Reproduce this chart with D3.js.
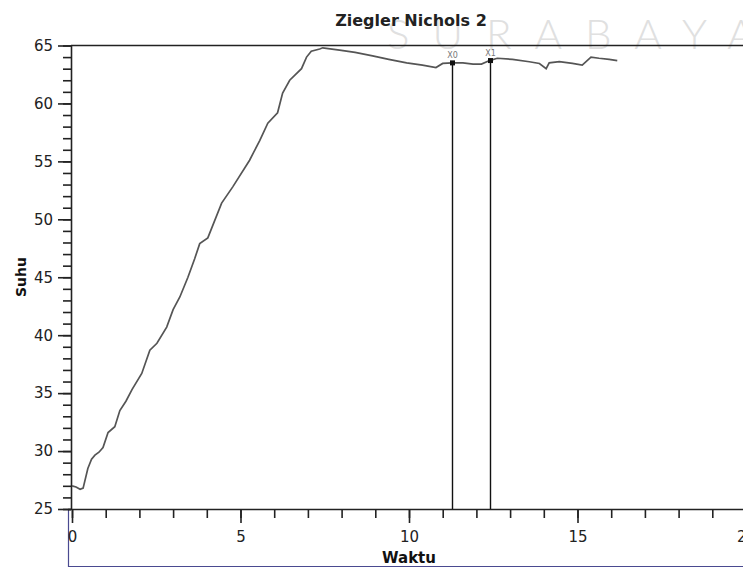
<!DOCTYPE html>
<html>
<head>
<meta charset="utf-8">
<script src="https://cdn.jsdelivr.net/npm/d3@7"></script>
<style>
  body { margin: 0; background: #fff; }
  svg { display: block; }
</style>
</head>
<body>
<svg id="chart" width="743" height="568"></svg>
<script>
// Readings (waktu, suhu)
const waktu = [0, 0.12, 0.24, 0.33, 0.47, 0.58, 0.68, 0.8, 0.92, 1.07, 1.27, 1.42, 1.6, 1.78, 2.07,
  2.31, 2.52, 2.81, 3.0, 3.2, 3.44, 3.64, 3.79, 4.03, 4.44, 4.77, 5.27, 5.57, 5.81, 6.1, 6.25,
  6.46, 6.81, 6.96, 7.1, 7.35, 7.44, 7.94, 8.4, 8.92, 9.4, 9.93, 10.4, 10.8, 11.0, 11.29, 11.6,
  11.9, 12.15, 12.39, 12.62, 13.07, 13.57, 13.87, 14.07, 14.16, 14.46, 14.85, 15.14, 15.4,
  15.64, 15.94, 16.18]
const suhu = [27.0, 26.9, 26.7, 26.8, 28.5, 29.3, 29.65, 29.9, 30.3, 31.6, 32.1, 33.5, 34.3, 35.3, 36.7,
  38.7, 39.3, 40.7, 42.2, 43.3, 45.0, 46.6, 47.9, 48.4, 51.4, 52.8, 55.1, 56.8, 58.3, 59.2, 60.9,
  62.0, 63.0, 64.0, 64.5, 64.7, 64.8, 64.6, 64.4, 64.1, 63.8, 63.5, 63.3, 63.1, 63.45, 63.5, 63.5,
  63.4, 63.4, 63.7, 63.9, 63.8, 63.6, 63.45, 63.0, 63.5, 63.6, 63.45, 63.3, 64.0,
  63.9, 63.8, 63.7]

// cursors
const cursor_names = ['X0', 'X1']
const cursor_t = [11.29, 12.39]
const cursor_v = [63.5, 63.7]

const x_major = [0, 5, 10, 15, 20]
const x_minor = d3.range(0, 21, 1)
const y_major = [25, 30, 35, 40, 45, 50, 55, 60, 65]
const y_minor = d3.range(25, 66, 1)

const svg = d3.select('#chart')
const font = '"DejaVu Sans", Tahoma, sans-serif'

const x = d3.scaleLinear().domain([0, 20]).range([72, 746])
const y = d3.scaleLinear().domain([25, 65]).range([509, 45.5])

// Watermark
svg.append('text')
  .attr('x', 387)
  .attr('y', 49)
  .text('SURABAYA')
  .style('font-family', 'Lato, "Open Sans", sans-serif')
  .style('font-weight', 300)
  .style('font-size', '42px')
  .style('letter-spacing', '23px')
  .style('fill', '#e0e0e0')

// Frame bits at the bottom left
svg.append('path')
  .attr('d', `M68.5,509V566.5H743`)
  .style('fill', 'none')
  .style('stroke', '#4a4a90')
  .style('stroke-width', 1.2)

// Top line
svg.append('line')
  .attr('x1', 71).attr('x2', 743)
  .attr('y1', y(65)).attr('y2', y(65))
  .style('stroke', '#222')
  .style('stroke-width', 1.5)

// Y axis
let gy_minor = svg.append('g')
  .attr('transform', `translate(71,0)`)
  .call(d3.axisLeft(y).tickValues(y_minor).tickSize(8).tickFormat(''))
let gy = svg.append('g')
  .attr('transform', `translate(71,0)`)
  .call(d3.axisLeft(y).tickValues(y_major).tickSize(13).tickPadding(5))

// X axis
let gx_minor = svg.append('g')
  .attr('transform', `translate(0,509)`)
  .call(d3.axisBottom(x).tickValues(x_minor).tickSize(9).tickFormat(''))
let gx = svg.append('g')
  .attr('transform', `translate(0,509)`)
  .call(d3.axisBottom(x).tickValues(x_major).tickSize(14).tickPadding(8))

for (let g of [gy_minor, gy, gx_minor, gx]) {
  g.selectAll('line').style('stroke', '#222').style('stroke-width', 1.6)
  g.select('.domain').style('stroke', '#222').style('stroke-width', 1.6)
  g.selectAll('text')
    .style('font-family', font)
    .style('font-size', '15px')
    .style('fill', '#222')
}
gx.select('.domain').attr('d', 'M68,0.5H743')
gy.select('.domain').attr('d', 'M0.5,45.5V509')
gy_minor.select('.domain').remove()
gx_minor.select('.domain').remove()

// Curve
const line = d3.line()
  .x((d, i) => x(waktu[i]))
  .y((d, i) => y(suhu[i]))
svg.append('path')
  .datum(suhu)
  .attr('d', line)
  .style('fill', 'none')
  .style('stroke', '#555')
  .style('stroke-width', 1.7)

// Cursors
cursor_names.forEach((name, i) => {
  let cx = Math.round(x(cursor_t[i])) + 0.5
  let cy = y(cursor_v[i])
  svg.append('line')
    .attr('x1', cx).attr('x2', cx)
    .attr('y1', cy).attr('y2', 509)
    .style('stroke', '#111')
    .style('stroke-width', 1.4)
  svg.append('rect')
    .attr('x', cx - 2.5).attr('y', cy - 2.5)
    .attr('width', 5).attr('height', 5)
    .style('fill', '#111')
  svg.append('text')
    .attr('x', cx)
    .attr('y', cy - 5)
    .attr('text-anchor', 'middle')
    .text(name)
    .style('font-family', font)
    .style('font-size', '8px')
    .style('fill', '#777')
})

// Title and axis labels
svg.append('text')
  .attr('x', 411)
  .attr('y', 26)
  .attr('text-anchor', 'middle')
  .text('Ziegler Nichols 2')
  .style('font-family', font)
  .style('font-weight', 'bold')
  .style('font-size', '16px')
  .style('fill', '#222')

svg.append('text')
  .attr('x', 409)
  .attr('y', 563)
  .attr('text-anchor', 'middle')
  .text('Waktu')
  .style('font-family', font)
  .style('font-weight', 'bold')
  .style('font-size', '15px')
  .style('fill', '#111')

svg.append('text')
  .attr('transform', 'translate(26,277) rotate(-90)')
  .attr('text-anchor', 'middle')
  .text('Suhu')
  .style('font-family', font)
  .style('font-weight', 'bold')
  .style('font-size', '14px')
  .style('fill', '#111')
</script>
</body>
</html>
